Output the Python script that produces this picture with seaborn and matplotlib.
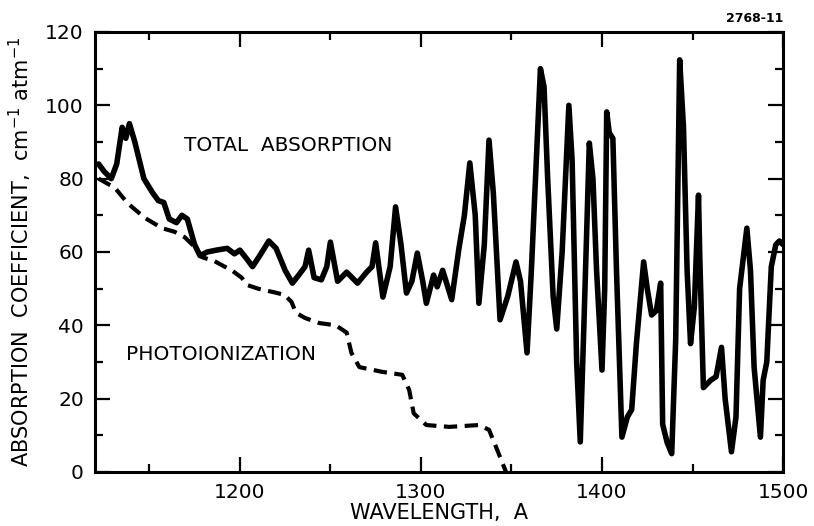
import matplotlib
matplotlib.use("Agg")
import matplotlib.pyplot as plt
from matplotlib.ticker import MultipleLocator
import seaborn as sns
import pandas as pd

# Total absorption coefficient (cm^-1 atm^-1) versus wavelength (A)
total_wavelength = [
    1122, 1125, 1129, 1132, 1135, 1137, 1139, 1142, 1147, 1152, 1155, 1158,
    1161, 1165, 1168, 1171, 1175, 1178, 1182, 1187, 1193, 1197, 1200, 1204,
    1207, 1211, 1216, 1220, 1225, 1229, 1233, 1236, 1238, 1241, 1245, 1248,
    1250, 1254, 1259, 1265, 1270, 1273, 1275, 1279, 1283, 1286, 1289, 1292,
    1295, 1298, 1301, 1303, 1307, 1309, 1312, 1317, 1321, 1324, 1327, 1330,
    1332, 1335, 1337.6, 1340, 1343.7, 1348, 1352.5, 1355, 1358.6, 1361, 1363,
    1366, 1368, 1370, 1373, 1375, 1378, 1381.7, 1383.5, 1386, 1388, 1390,
    1393, 1395, 1397, 1400, 1401.5, 1402.6, 1404, 1406, 1408, 1411, 1414,
    1416.4, 1419, 1423, 1425, 1427.4, 1430, 1432.4, 1433.5, 1436, 1438.5,
    1440.7, 1442.9, 1445, 1447, 1448.9, 1451, 1453.3, 1454, 1456, 1460, 1463,
    1466, 1468, 1471.5, 1474, 1476, 1480, 1482, 1484, 1487.5, 1489, 1491,
    1493.5, 1496, 1498, 1500,
]
total_absorption = [
    84, 82, 80, 84, 94, 91, 95, 90, 80, 76, 74, 73.5,
    69, 68, 70, 69, 62, 59, 60, 60.5, 61, 59.5, 60.5, 58,
    56, 59, 63, 61, 55, 51.5, 54, 56, 60.5, 53, 52.4, 56,
    62.7, 52, 54.5, 51.5, 54.5, 56, 62.5, 47.7, 56, 72.3, 62, 48.8,
    52, 59.7, 52, 46, 53.7, 50.5, 55, 47, 61, 70, 84.3, 70,
    46, 62, 90.5, 76, 41.5, 48, 57.3, 52, 32.5, 55, 77,
    110, 105, 80, 48, 39, 60, 100, 85, 30, 8.2, 40,
    89.7, 80, 55, 27.8, 50, 98.2, 92.5, 91, 55, 9.5, 15,
    17, 35, 57.3, 50, 42.8, 44, 51.5, 13, 8, 5,
    36, 112.4, 94, 55, 35, 45, 75.5, 58.6, 23, 25, 26,
    34, 20, 5.5, 15, 50, 66.5, 55, 28.6, 9.5, 25, 30,
    56, 62, 63, 62,
]

# Photoionization coefficient
photo_wavelength = [
    1122, 1131, 1138, 1147.5, 1157, 1164, 1169.6, 1175, 1179, 1186, 1191.6,
    1195.5, 1201, 1204, 1210, 1219, 1224.7, 1228.5, 1231, 1236, 1244, 1253,
    1259, 1261.6, 1266, 1278.7, 1289.7, 1293.5, 1296, 1303, 1315.6, 1332,
    1337.6, 1341.5, 1347,
]
photo_absorption = [
    80, 77.5, 73.3, 69.3, 66.5, 65.5, 64, 61.4, 58.6, 57.5, 56,
    55, 53, 51, 50, 49, 48.3, 46.4, 43.4, 42, 40.6, 40,
    38, 32.5, 28.6, 27.3, 26.5, 22.4, 16, 12.8, 12.3, 12.8,
    11.5, 6.8, 0,
]

x_ticks = [1200, 1300, 1400, 1500]
y_ticks = [0, 20, 40, 60, 80, 100, 120]

total_df = pd.DataFrame({"wavelength": total_wavelength, "coef": total_absorption})
photo_df = pd.DataFrame({"wavelength": photo_wavelength, "coef": photo_absorption})

sns.set_style("ticks")
plt.rcParams["font.family"] = ["DejaVu Sans"]
plt.rcParams["text.color"] = "black"
plt.rcParams["axes.labelcolor"] = "black"
plt.rcParams["xtick.labelcolor"] = "black"
plt.rcParams["ytick.labelcolor"] = "black"

fig = plt.figure(figsize=(8.14, 5.26), dpi=100)
ax = fig.add_axes([0.1167, 0.1027, 0.8453, 0.8365])

sns.lineplot(data=total_df, x="wavelength", y="coef", ax=ax, color="black",
             linewidth=4.0, estimator=None, sort=False,
             solid_joinstyle="round", solid_capstyle="round")
sns.lineplot(data=photo_df, x="wavelength", y="coef", ax=ax, color="black",
             linewidth=3.0, estimator=None, sort=False)
ax.lines[1].set_dashes((3.2, 1.8))

ax.set_xlim(1120, 1500)
ax.set_ylim(0, 120)
ax.set_xticks(x_ticks)
ax.set_yticks(y_ticks)
ax.xaxis.set_minor_locator(MultipleLocator(50))
ax.yaxis.set_minor_locator(MultipleLocator(10))

for side in ["left", "right", "top", "bottom"]:
    ax.spines[side].set_linewidth(2.2)
    ax.spines[side].set_color("black")

ax.tick_params(which="both", direction="in", top=True, right=True,
               width=1.6, color="black", labelcolor="black", labelsize=14.5,
               pad=8)
ax.tick_params(which="major", length=11)
ax.tick_params(which="minor", length=6)

ax.set_xlabel("WAVELENGTH,  A", fontsize=15, labelpad=1, color="black")
ax.set_ylabel(r"ABSORPTION  COEFFICIENT,  cm$^{-1}$ atm$^{-1}$", fontsize=15,
              labelpad=8, color="black")

ax.text(1169, 89, "TOTAL  ABSORPTION", fontsize=14.5, va="center", ha="left",
        color="black")
ax.text(1137, 32, "PHOTOIONIZATION", fontsize=14.5, va="center", ha="left",
        color="black")
fig.text(0.962, 0.965, "2768-11", fontsize=9, fontweight="bold",
         ha="right", va="center", color="black")

fig.savefig("out.png", dpi=100, facecolor="white")
